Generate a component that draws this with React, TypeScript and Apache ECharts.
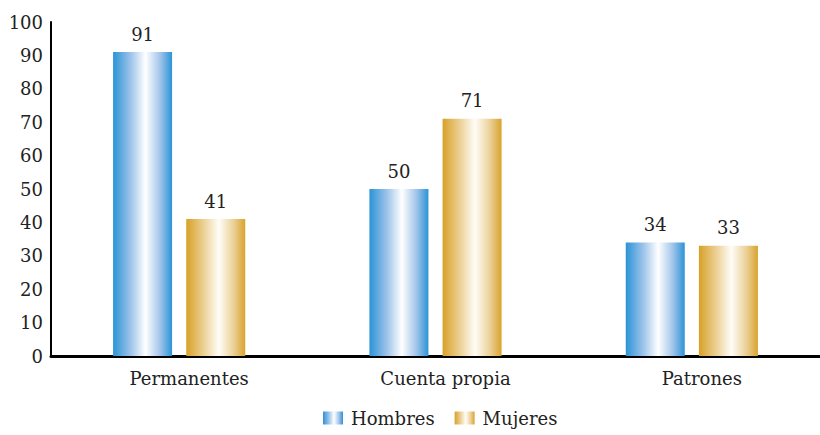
import React, { useEffect, useRef } from "react";
import * as echarts from "echarts";

const categories = ["Permanentes", "Cuenta propia", "Patrones"];
const hombres = [91, 50, 34];
const mujeres = [41, 71, 33];
const yTicks = [0, 10, 20, 30, 40, 50, 60, 70, 80, 90, 100];

const FONT = "DejaVu Serif";
const FS = 18;

export default function App() {
  const ref = useRef<HTMLDivElement>(null);
  useEffect(() => {
    if (!ref.current) return;
    const chart = echarts.init(ref.current, undefined, { renderer: "svg" });
    const blue = new echarts.graphic.LinearGradient(0, 0, 1, 0, [
      { offset: 0, color: "#2b93d6" },
      { offset: 0.3, color: "#9ec4ea" },
      { offset: 0.55, color: "#ffffff" },
      { offset: 0.8, color: "#a0c4ea" },
      { offset: 1, color: "#2b93d6" },
    ]);
    const gold = new echarts.graphic.LinearGradient(0, 0, 1, 0, [
      { offset: 0, color: "#d8a127" },
      { offset: 0.3, color: "#ecd197" },
      { offset: 0.55, color: "#fffdf8" },
      { offset: 0.8, color: "#ebd199" },
      { offset: 1, color: "#d9a32d" },
    ]);
    const lbl = {
      show: true,
      position: "top",
      distance: 9,
      fontFamily: FONT,
      fontSize: FS,
      color: "#222",
    };
    chart.setOption({
      animation: false,
      textStyle: { fontFamily: FONT },
      grid: { left: 51, right: -4, top: 22, bottom: 79, containLabel: false },
      legend: {
        bottom: 3,
        left: 318,
        icon: "rect",
        itemWidth: 20,
        itemHeight: 13,
        itemGap: 20,
        textStyle: { fontFamily: FONT, fontSize: FS, color: "#222", padding: [0, 0, 0, 3] },
        data: ["Hombres", "Mujeres"],
      },
      xAxis: {
        type: "category",
        data: categories,
        axisLine: { lineStyle: { color: "#000", width: 3 } },
        axisTick: { show: false },
        axisLabel: {
          fontFamily: FONT,
          fontSize: FS,
          color: "#222",
          margin: 13,
          padding: [0, 0, 0, 20],
        },
      },
      yAxis: {
        type: "value",
        min: yTicks[0],
        max: yTicks[yTicks.length - 1],
        interval: 10,
        splitLine: { show: false },
        axisLine: { show: true, lineStyle: { color: "#000", width: 2 } },
        axisTick: { show: false },
        axisLabel: { fontFamily: FONT, fontSize: FS, color: "#222", margin: 8 },
      },
      series: [
        {
          name: "Hombres",
          type: "bar",
          data: hombres,
          barWidth: 59,
          barGap: "24%",
          itemStyle: { color: blue },
          label: lbl,
        },
        {
          name: "Mujeres",
          type: "bar",
          data: mujeres,
          barWidth: 59,
          barGap: "24%",
          itemStyle: { color: gold },
          label: lbl,
        },
      ],
    });
    return () => chart.dispose();
  }, []);
  return <div ref={ref} style={{ width: 820, height: 435, position: "absolute", left: 0, top: 0 }} />;
}
